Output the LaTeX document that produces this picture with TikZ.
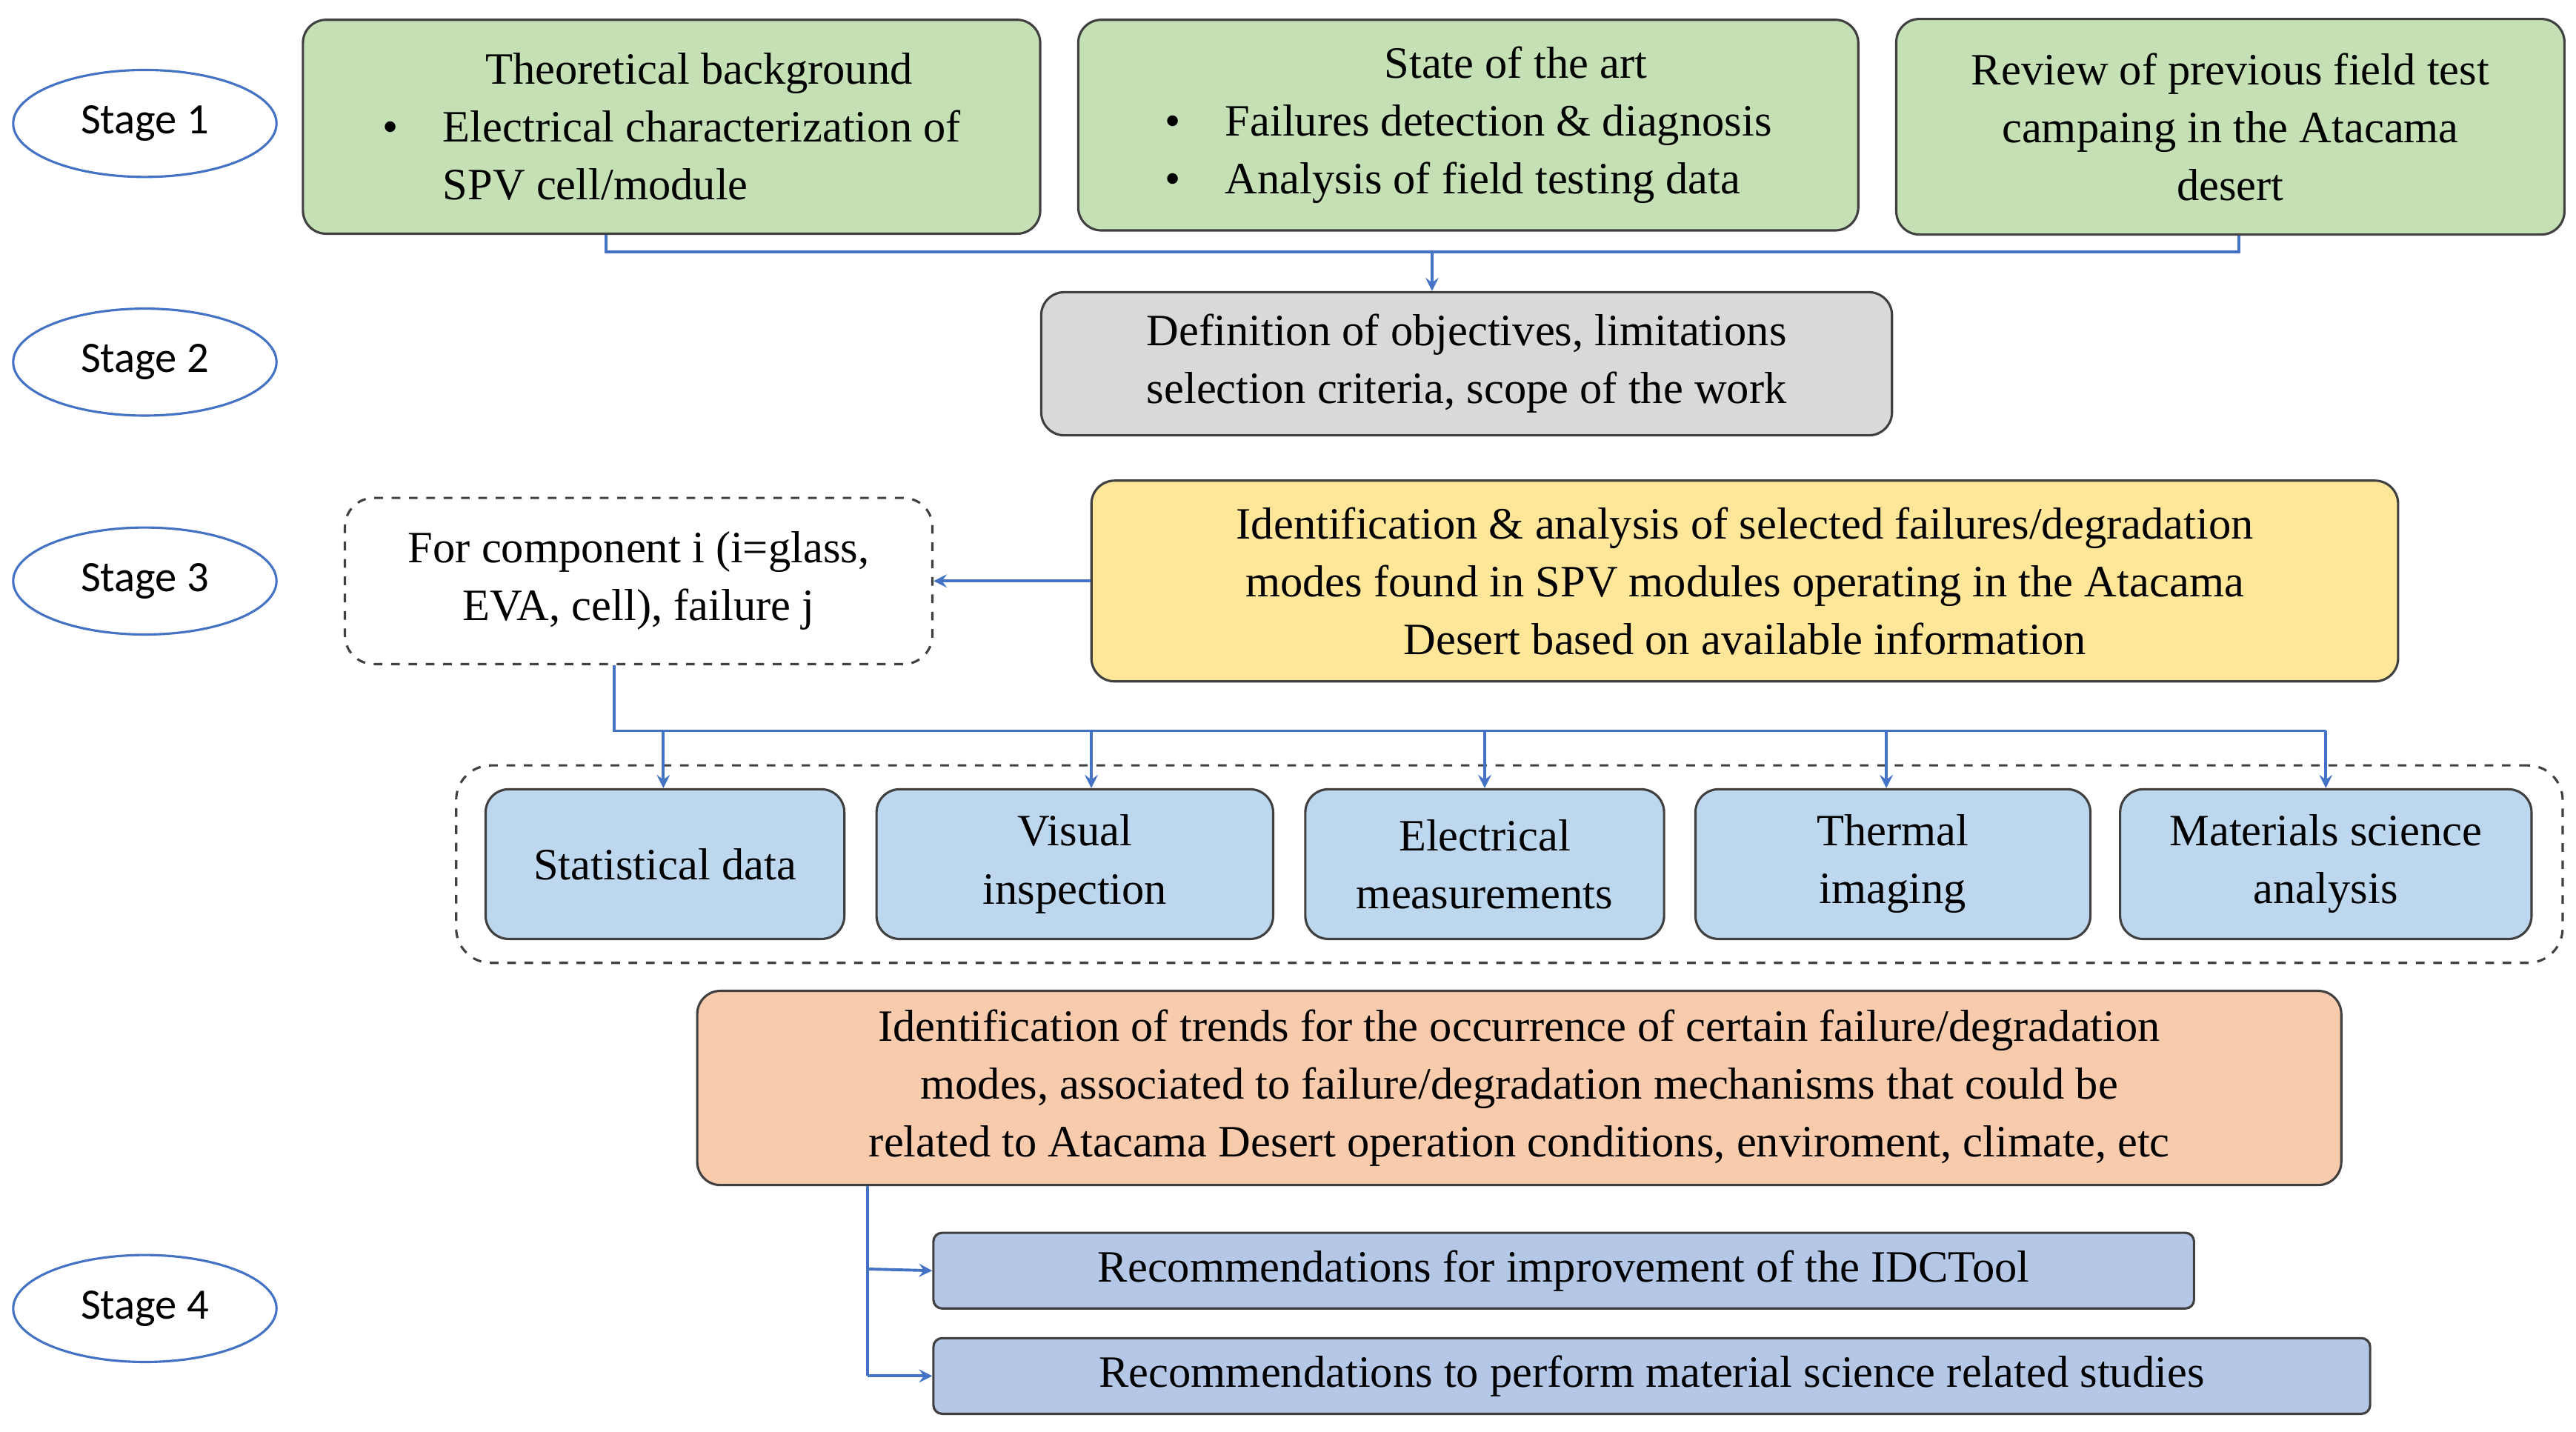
\documentclass[tikz,border=0pt]{standalone}
\usepackage{fontspec}
\setmainfont{Liberation Serif}
\newfontfamily\stagefont{Carlito}
\usetikzlibrary{positioning,calc,shapes.geometric}
\definecolor{boxgreen}{HTML}{C5E0B4}
\definecolor{boxgray}{HTML}{D9D9D9}
\definecolor{boxyellow}{HTML}{FFE699}
\definecolor{boxblue}{HTML}{BDD7EE}
\definecolor{boxorange}{HTML}{F8CBAD}
\definecolor{boxdeep}{HTML}{B4C7E7}
\definecolor{linkblue}{HTML}{4472C4}
\tikzset{
  stage/.style={ellipse,draw=linkblue,line width=0.8pt,minimum width=3.2cm,minimum height=1.3cm,font=\stagefont\fontsize{15}{18}\selectfont},
  box/.style={draw=black!75,rounded corners=8pt,line width=0.8pt,align=center,font=\fontsize{15.5}{20}\selectfont,inner sep=2pt},
  link/.style={draw=linkblue,line width=1pt},
  arr/.style={link,-stealth},
}
\begin{document}
\begin{tikzpicture}[x=0.02cm,y=-0.02cm]
	\useasboundingbox (0,0) rectangle (1565,870);
	% etapas
	\node[stage] (s1) at (88,75) {Stage 1};
	\node[stage] (s2) at (88,220) {Stage 2};
	\node[stage] (s3) at (88,353) {Stage 3};
	\node[stage] (s4) at (88,795) {Stage 4};
	% stage 1
	\node[box,fill=boxgreen,minimum width=8.96cm,minimum height=2.6cm,align=left] (theory) at (408,77)
	  {\hspace{2.3em}Theoretical background\\ \textbullet\quad Electrical characterization of\\ \phantom{\textbullet\quad}SPV cell/module};
	\node[box,fill=boxgreen,minimum width=9.48cm,minimum height=2.56cm,align=left] (state) at (892,76)
	  {\hspace{4.9em}State of the art\\ \textbullet\quad Failures detection \& diagnosis\\ \textbullet\quad Analysis of field testing data};
	\node[box,fill=boxgreen,minimum width=8.12cm,minimum height=2.62cm] (review) at (1355,77)
	  {Review of previous field test\\ campaing in the Atacama\\ desert};
	% stage 2
	\node[box,fill=boxgray,minimum width=10.34cm,minimum height=1.74cm] (objectives) at (891,221)
	  {Definition of objectives, limitations\\ selection criteria, scope of the work};
	\coordinate (j1) at (870,153);
	\draw[link] (theory.south -| 368,0) |- (j1) -| (review.south -| 1360,0);
	\draw[arr] (j1) -- (objectives.north -| j1);
	% stage 3
	\node[box,dashed,rounded corners=10pt,minimum width=7.14cm,minimum height=2.02cm] (component) at (388,353)
	  {For component i (i=glass,\\ EVA, cell), failure j};
	\node[box,fill=boxyellow,minimum width=15.88cm,minimum height=2.44cm] (identify) at (1060,353)
	  {Identification \& analysis of selected failures/degradation\\ modes found in SPV modules operating in the Atacama\\ Desert based on available information};
	\draw[arr] (identify.west) -- (component.east);
	\node[draw=black!75,dashed,rounded corners=12pt,line width=0.8pt,minimum width=25.6cm,minimum height=2.4cm] (tools) at (917,525) {};
	\node[box,fill=boxblue,minimum width=4.36cm,minimum height=1.82cm] (stat) at (404,525) {Statistical data};
	\node[box,fill=boxblue,minimum width=4.82cm,minimum height=1.82cm] (visual) at (653,525) {Visual\\ inspection};
	\node[box,fill=boxblue,minimum width=4.36cm,minimum height=1.82cm] (elec) at (902,525) {Electrical\\ measurements};
	\node[box,fill=boxblue,minimum width=4.8cm,minimum height=1.82cm] (thermal) at (1150,525) {Thermal\\ imaging};
	\node[box,fill=boxblue,minimum width=5cm,minimum height=1.82cm] (materials) at (1413,525) {Materials science\\ analysis};
	\coordinate (j2) at (373,444);
	\draw[link] (component.south -| j2) -- (j2) -- (1413,444);
	\foreach \x/\n in {403/stat,663/visual,902/elec,1146/thermal,1413/materials}
	  \draw[arr] (\x,444) -- (\n.north -| \x,0);
	% stage 4
	\node[box,fill=boxorange,minimum width=19.98cm,minimum height=2.36cm] (trends) at (923,661)
	  {Identification of trends for the occurrence of certain failure/degradation\\ modes, associated to failure/degradation mechanisms that could be\\ related to Atacama Desert operation conditions, enviroment, climate, etc};
	\node[box,fill=boxdeep,rounded corners=3pt,minimum width=15.32cm,minimum height=0.92cm] (improve) at (950,772)
	  {Recommendations for improvement of the IDCTool};
	\node[box,fill=boxdeep,rounded corners=3pt,minimum width=17.46cm,minimum height=0.92cm] (studies) at (1003.5,836)
	  {Recommendations to perform material science related studies};
	\coordinate (j3) at (527,836);
	\draw[link] (trends.south -| j3) -- (j3);
	\draw[arr] (527,771) -- (improve.west);
	\draw[arr] (j3) -- (studies.west);
\end{tikzpicture}
\end{document}
